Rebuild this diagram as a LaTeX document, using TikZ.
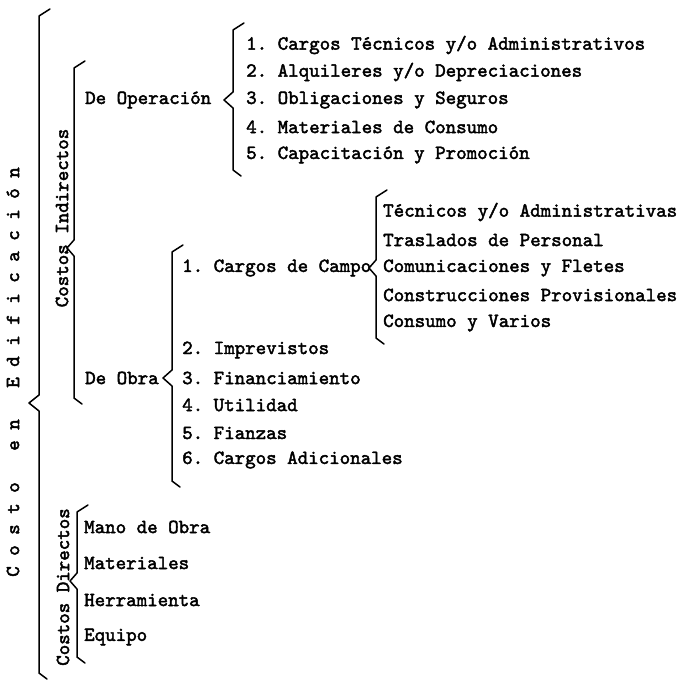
\documentclass[tikz,border=0pt]{standalone}
\usepackage{fontspec}
\newfontfamily\cour{lmmono10-regular.otf}[FakeBold=2.2]
\begin{document}
\frenchspacing
\begin{tikzpicture}[x=1pt,y=-1pt,
  lbl/.style={anchor=west, inner sep=0pt, font=\cour\fontsize{20}{24}\selectfont},
  vlbl/.style={inner sep=0pt, rotate=90, font=\cour\fontsize{20}{24}\selectfont},
  brace/.style={line width=1.5pt, line join=round, line cap=round}]
\useasboundingbox (0,0) rectangle (681,680);

% title and vertical group labels
\node[vlbl] (title) at (13,372) {C~o~s~t~o~~~e~n~~~E~d~i~f~i~c~a~c~i~ó~n};
\node[vlbl] (ci) at (62,218) {Costos Indirectos};
\node[vlbl] (cd) at (63,587) {Costos Directos};

% De Operacion
\node[lbl] (deop) at (85,100) {De Operación};
\node[lbl] (op1) at (246,45) {1. Cargos Técnicos y/o Administrativos};
\node[lbl] (op2) at (246,72) {2. Alquileres y/o Depreciaciones};
\node[lbl] (op3) at (246,100) {3. Obligaciones y Seguros};
\node[lbl] (op4) at (246,127) {4. Materiales de Consumo};
\node[lbl] (op5) at (246,155) {5. Capacitación y Promoción};

% De Obra
\node[lbl] (deobra) at (85,378) {De Obra};
\node[lbl] (ob1) at (182,268) {1. Cargos de Campo};
\node[lbl] (ob2) at (182,350) {2. Imprevistos};
\node[lbl] (ob3) at (182,378) {3. Financiamiento};
\node[lbl] (ob4) at (182,405) {4. Utilidad};
\node[lbl] (ob5) at (182,433) {5. Fianzas};
\node[lbl] (ob6) at (182,460) {6. Cargos Adicionales};

% Cargos de Campo
\node[lbl] (t1) at (383,212) {Técnicos y/o Administrativas};
\node[lbl] (t2) at (383,240) {Traslados de Personal};
\node[lbl] (t3) at (383,268) {Comunicaciones y Fletes};
\node[lbl] (t4) at (383,295) {Construcciones Provisionales};
\node[lbl] (t5) at (383,323) {Consumo y Varios};

% Costos Directos
\node[lbl] (mo) at (84,527) {Mano de Obra};
\node[lbl] (mat) at (84,563) {Materiales};
\node[lbl] (her) at (84,600) {Herramienta};
\node[lbl] (eq) at (84,637) {Equipo};

% braces: x, top, tip y, bottom, tip x
\newcommand{\hbrace}[5]{%
  \draw[brace] (#1+11,#2-7) -- (#1,#2) -- (#1,#3-8) -- (#5,#3) -- (#1,#3+8) -- (#1,#4) -- (#1+8,#4+6);}
\hbrace{39}{16}{403}{673}{29}
\hbrace{74}{68}{248}{398}{67}
\hbrace{233}{30}{100}{170}{224}
\hbrace{172}{252}{378}{481}{163}
\hbrace{376}{197}{268}{338}{369}
\hbrace{77}{512}{581}{657}{70}
\end{tikzpicture}
\end{document}
